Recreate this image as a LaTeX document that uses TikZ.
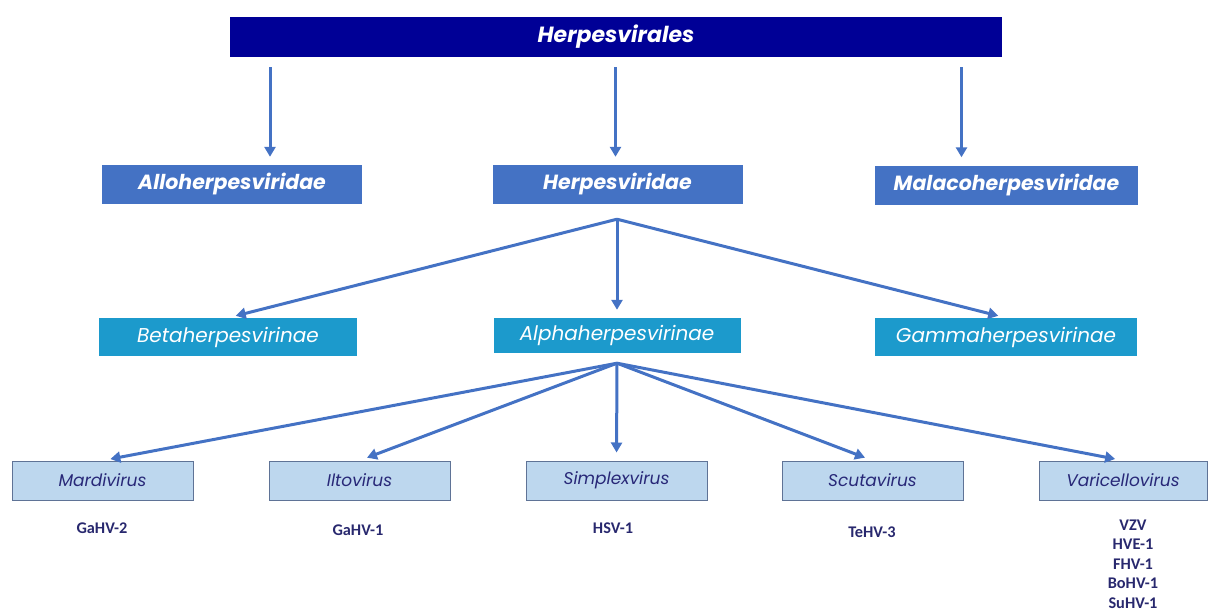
\documentclass[tikz,border=0pt]{standalone}
\usepackage{fontspec}
\newfontfamily\boxfont{Poppins}
\newfontfamily\lblfont{Carlito}
\usetikzlibrary{arrows.meta,positioning}

\definecolor{topblue}{RGB}{0,0,150}
\definecolor{famblue}{RGB}{68,114,196}
\definecolor{subblue}{RGB}{28,154,204}
\definecolor{genfill}{RGB}{189,215,238}
\definecolor{genborder}{RGB}{95,115,150}
\definecolor{gentext}{RGB}{40,40,120}
\definecolor{lbltext}{RGB}{40,40,110}
\definecolor{arrblue}{RGB}{68,114,196}

\tikzset{
  box/.style={minimum height=39pt, inner sep=0pt},
  order/.style={box, fill=topblue, text=white, minimum width=772pt, minimum height=40pt, font=\boxfont\bfseries\itshape\fontsize{22}{26}\selectfont},
  family/.style={box, fill=famblue, text=white, font=\boxfont\bfseries\itshape\fontsize{20.5}{24}\selectfont},
  subfam/.style={box, fill=subblue, text=white, font=\boxfont\itshape\fontsize{20}{24}\selectfont},
  genus/.style={box, fill=genfill, draw=genborder, line width=1pt, text=gentext, minimum width=181pt, font=\boxfont\itshape\fontsize{17}{20}\selectfont},
  virus/.style={text=lbltext, align=center, inner sep=0pt, font=\lblfont\bfseries\fontsize{16.3}{19.4}\selectfont},
  arr/.style={draw=arrblue, line width=3pt, -{Triangle[length=10pt,width=11pt]}, shorten >=8pt}
}

\begin{document}
\begin{tikzpicture}[x=1pt,y=-1pt]
\useasboundingbox (0,0) rectangle (1208,613);

\node[order] (order) at (616,37) {Herpesvirales};

\node[family, minimum width=260pt] (allo) at (232,184.5) {Alloherpesviridae};
\node[family, minimum width=250pt] (herpes) at (617.5,184.5) {Herpesviridae};
\node[family, minimum width=263pt] (malaco) at (1006.5,185) {Malacoherpesviridae};

\node[subfam, minimum width=258pt, minimum height=38pt] (beta) at (228,337) {Betaherpesvirinae};
\node[subfam, minimum width=247pt, minimum height=35pt] (alpha) at (617,335.5) {Alphaherpesvirinae};
\node[subfam, minimum width=262pt, minimum height=38pt] (gamma) at (1006,337) {Gammaherpesvirinae};

\node[genus] (mardi) at (102.5,480.5) {Mardivirus};
\node[genus] (ilto) at (359.5,480.5) {Iltovirus};
\node[genus] (simplex) at (616.5,480.5) {Simplexvirus};
\node[genus] (scuta) at (872.5,480.5) {Scutavirus};
\node[genus, minimum width=168pt] (varicello) at (1123,480.5) {Varicellovirus};

\node[virus] (gahv2) at (102,528) {GaHV-2};
\node[virus] (gahv1) at (358,530) {GaHV-1};
\node[virus] (hsv1) at (613,528) {HSV-1};
\node[virus] (tehv3) at (872,532) {TeHV-3};
\node[virus] (vzv) at (1133,564) {VZV\\HVE-1\\FHV-1\\BoHV-1\\SuHV-1};

% order to families
\coordinate (allo in) at ([xshift=38pt]allo.north);
\coordinate (herpes in) at ([xshift=-2pt]herpes.north);
\coordinate (malaco in) at ([xshift=-45pt]malaco.north);
\foreach \fam in {allo, herpes, malaco}
  \draw[arr, shorten <=10pt] (order.south -| \fam\space in) -- (\fam\space in);

% herpesviridae to subfamilies
\coordinate (herpes fan) at ([yshift=-15pt]herpes.south -| alpha.north);
\foreach \sub in {beta, alpha, gamma}
  \draw[arr] (herpes fan) -- (\sub.north);

% alphaherpesvirinae to genera
\coordinate (alpha fan) at ([yshift=-10pt]alpha.south);
\foreach \gen in {mardi, ilto, simplex, scuta, varicello}
  \draw[arr] (alpha fan) -- (\gen.north);

\end{tikzpicture}
\end{document}
